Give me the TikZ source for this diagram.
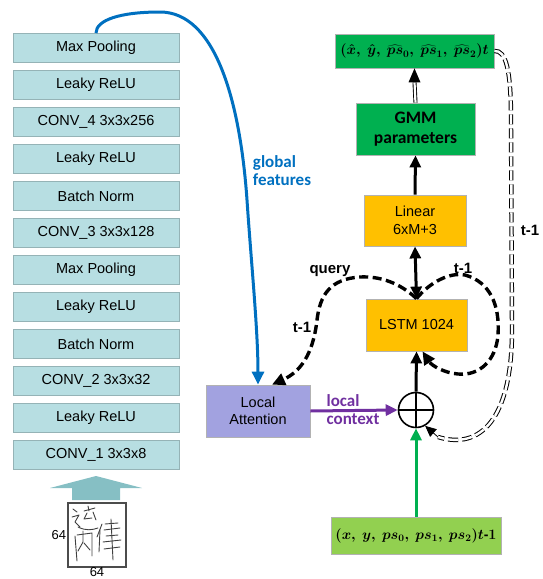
\documentclass[tikz,border=0pt]{standalone}
\usepackage[no-math]{fontspec}
\setmainfont{Liberation Sans}
\newfontfamily\calib{Carlito}
\usepackage{bm}
\usetikzlibrary{arrows.meta,calc}
\definecolor{cnn}{HTML}{B7DEE2}
\definecolor{cnnedge}{HTML}{95B3B6}
\definecolor{bigarrow}{HTML}{86BFC4}
\definecolor{outgreen}{HTML}{00B050}
\definecolor{ingreen}{HTML}{92D050}
\definecolor{lstmy}{HTML}{FFC000}
\definecolor{lav}{HTML}{A2A2E0}
\definecolor{bluea}{HTML}{0070C0}
\definecolor{purp}{HTML}{7030A0}
\tikzset{
  layer/.style={draw=cnnedge, line width=0.8pt, fill=cnn, minimum width=166pt, minimum height=29pt, inner sep=0pt, font=\fontsize{14.5}{16}\selectfont},
  box/.style={draw=gray!60, line width=0.8pt, inner sep=0pt, align=center, font=\fontsize{14.5}{17.5}\selectfont},
  lbl/.style={font=\calib\bfseries\fontsize{17}{18}\selectfont, align=left, inner sep=0pt},
  tlbl/.style={font=\bfseries\fontsize{15}{17}\selectfont, inner sep=0pt},
  blk/.style={line width=3pt, -{Triangle[length=12pt,width=11pt]}},
  dsh/.style={line width=3.4pt, dash pattern=on 9pt off 4.5pt, -{Triangle[length=13pt,width=12pt]}},
  hand/.style={line width=0.9pt, draw=black!75, line cap=round, line join=round}
}
\begin{document}
\begin{tikzpicture}[x=1pt,y=-1pt]
\useasboundingbox (0,0) rectangle (542,579);
% CNN column
\node[layer] (L1) at (96,48) {Max Pooling};
\node[layer] (L2) at (96,85) {Leaky ReLU};
\node[layer] (L3) at (96,122) {CONV\_4 3x3x256};
\node[layer] (L4) at (96,159) {Leaky ReLU};
\node[layer] (L5) at (96,196) {Batch Norm};
\node[layer] (L6) at (96,233) {CONV\_3 3x3x128};
\node[layer] (L7) at (96,270) {Max Pooling};
\node[layer] (L8) at (96,307) {Leaky ReLU};
\node[layer] (L9) at (96,344) {Batch Norm};
\node[layer] (L10) at (96,381) {CONV\_2 3x3x32};
\node[layer] (L11) at (96,418) {Leaky ReLU};
\node[layer] (L12) at (96,455) {CONV\_1 3x3x8};
% block arrow
\fill[bigarrow] (96,476) -- (142,488) -- (120,488) -- (120,500) -- (72,500) -- (72,488) -- (50,488) -- cycle;
% input image
\node[draw=black!70, line width=1.2pt, minimum width=58pt, minimum height=64pt, inner sep=0pt] (img) at (97,535) {};
\node[font=\fontsize{13}{14}\selectfont, anchor=east, inner sep=1pt] (h64) at (img.west) {64};
\node[font=\fontsize{13}{14}\selectfont, inner sep=0pt] (w64) at (97,572) {64};
% handwriting strokes
\draw[hand] (73,509) -- (77,512);
\draw[hand] (72,517) -- (79,515) -- (75,522) -- (80,527);
\draw[hand] (84,511) -- (95,508);
\draw[hand] (88,506) -- (89,511);
\draw[hand] (87,513) -- (84,519) -- (92,518);
\draw[hand] (93,512) -- (96,520);
\draw[hand] (78,527) .. controls (86,531) and (92,530) .. (98,528);
\draw[hand] (75,536) -- (77,561);
\draw[hand] (77,535) -- (92,533) -- (92,556);
\draw[hand] (83,531) -- (83,542) -- (78,551);
\draw[hand] (84,543) -- (90,550);
\draw[hand] (102,524) -- (97,537);
\draw[hand] (100,530) -- (99,552);
\draw[hand] (105,524) -- (118,523);
\draw[hand] (104,530) -- (120,528);
\draw[hand] (106,536) -- (118,535);
\draw[hand] (103,542) -- (121,540);
\draw[hand] (111,519) -- (113,560);
\draw[hand] (104,549) -- (120,547);
% right side boxes
\node[box, fill=outgreen, minimum width=159pt, minimum height=34pt] (out) at (414.5,51) {\fontsize{14}{16}\selectfont$\bm{(\hat{x},\ \hat{y},\ \widehat{ps}_0,\ \widehat{ps}_1,\ \widehat{ps}_2)t}$};
\node[box, fill=outgreen, minimum width=119pt, minimum height=52pt, font=\calib\bfseries\fontsize{17.5}{20}\selectfont] (gmm) at (415.5,129) {GMM\\parameters};
\node[box, fill=lstmy, minimum width=102pt, minimum height=51pt] (lin) at (415,220.5) {Linear\\6xM+3};
\node[box, fill=lstmy, minimum width=101pt, minimum height=52pt] (lstm) at (416.5,325) {LSTM 1024};
\node[box, fill=lav, minimum width=104pt, minimum height=52pt] (la) at (258,411) {Local\\Attention};
\node[box, fill=ingreen, minimum width=170pt, minimum height=37pt] (inp) at (416,535.5) {\fontsize{14}{16}\selectfont$\bm{(x,\ y,\ ps_0,\ ps_1,\ ps_2)t}$\textbf{-}$\bm{1}$};
\node[circle, draw, line width=1.6pt, minimum size=35pt, inner sep=0pt] (plus) at (416,410) {};
\draw[line width=1.6pt] (plus.north) -- (plus.south) (plus.west) -- (plus.east);
% connectors
\draw[line width=0.9pt, double, double distance=2.2pt] (gmm.north) -- ($(out.south)+(0,14)$);
\fill ($(out.south)+(0,0)$) -- ($(out.south)+(-6,14)$) -- ($(out.south)+(6,14)$) -- cycle;
\draw[blk] (lin.north) -- (gmm.south);
\draw[line width=3pt, {Triangle[length=12pt,width=11pt]}-{Triangle[length=12pt,width=11pt]}] (lin.south) -- (lstm.north);
\draw[blk] (plus.north) -- (lstm.south);
\draw[blk, draw=outgreen] (inp.north) -- (plus.south);
\draw[blk, draw=purp] (la.east) -- (plus.west);
% blue global features
\draw[line width=3pt, draw=bluea, -{Triangle[length=13pt,width=12pt]}] (L1.north) .. controls (96,20) and (120,12) .. (160,12) .. controls (215,12) and (240,100) .. (247,200) .. controls (251,260) and (258,330) .. (la.north);
% dashed loops
\draw[dsh] (lstm.north) .. controls (400,283) and (380,276) .. (360,277) .. controls (330,279) and (320,295) .. (317,320) .. controls (313,355) and (300,372) .. ($(la.north)+(14,0)$);
\draw[dsh] (lstm.north) .. controls (430,282) and (450,272) .. (465,275) .. controls (490,282) and (500,305) .. (498,335) .. controls (496,360) and (480,376) .. (458,374) .. controls (445,373) and (432,366) .. ($(lstm.south)+(6,0)$);
% double dashed feedback
\coordinate (fb) at (438,437);
\draw[line width=1pt, double, double distance=2.4pt, dash pattern=on 10pt off 4pt] (out.east) .. controls (506,50) and (511,70) .. (511,120) -- (512,330) .. controls (512,420) and (480,450) .. (fb);
\draw[line width=0.8pt, -{Triangle[length=11pt,width=10pt]}] (fb) -- (plus.-60);
% labels
\node[lbl, text=bluea] (gf) at (282,171) {global\\features};
\node[lbl, text=purp] (lc) at (353,410) {local\\context};
\node[tlbl] (q) at (330,271) {query};
\node[tlbl] (t1) at (302,327) {t-1};
\node[tlbl] (t2) at (463,268) {t-1};
\node[tlbl] (t3) at (530,230) {t-1};
\end{tikzpicture}
\end{document}
